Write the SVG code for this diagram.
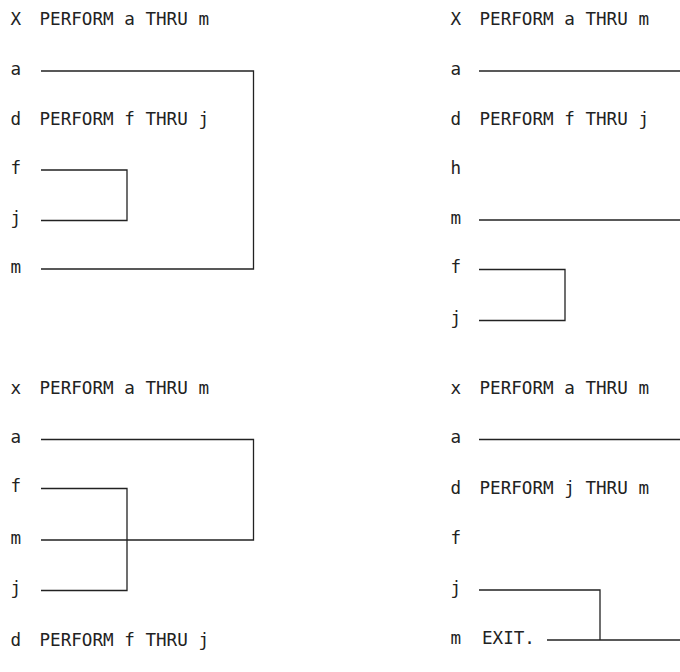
<svg xmlns="http://www.w3.org/2000/svg" width="680" height="672" viewBox="0 0 680 672">
<style>
text{font-family:"DejaVu Sans Mono","Liberation Mono",monospace;font-size:17.6px;fill:#222;white-space:pre}
.c{fill:none;stroke:#222;stroke-width:1.3}
</style>
<rect width="680" height="672" fill="#fff"/>
<g id="p1">
<g id="p1-x"><text x="10.5" y="25">X</text><text x="39.5" y="25">PERFORM a THRU m</text></g>
<g id="p1-a"><text x="10.5" y="75">a</text></g>
<g id="p1-d"><text x="10.5" y="125">d</text><text x="39.5" y="125">PERFORM f THRU j</text></g>
<g id="p1-f"><text x="10.5" y="174">f</text></g>
<g id="p1-j"><text x="10.5" y="224">j</text></g>
<g id="p1-m"><text x="10.5" y="273">m</text></g>
</g>
<g id="p2">
<g id="p2-x"><text x="450.5" y="25">X</text><text x="479.5" y="25">PERFORM a THRU m</text></g>
<g id="p2-a"><text x="450.5" y="75">a</text></g>
<g id="p2-d"><text x="450.5" y="125">d</text><text x="479.5" y="125">PERFORM f THRU j</text></g>
<g id="p2-h"><text x="450.5" y="174">h</text></g>
<g id="p2-m"><text x="450.5" y="224">m</text></g>
<g id="p2-f"><text x="450.5" y="273">f</text></g>
<g id="p2-j"><text x="450.5" y="324">j</text></g>
</g>
<g id="p3">
<g id="p3-x"><text x="10.5" y="394">x</text><text x="39.5" y="394">PERFORM a THRU m</text></g>
<g id="p3-a"><text x="10.5" y="443">a</text></g>
<g id="p3-f"><text x="10.5" y="492">f</text></g>
<g id="p3-m"><text x="10.5" y="544">m</text></g>
<g id="p3-j"><text x="10.5" y="594">j</text></g>
<g id="p3-d"><text x="10.5" y="646">d</text><text x="39.5" y="646">PERFORM f THRU j</text></g>
</g>
<g id="p4">
<g id="p4-x"><text x="450.5" y="394">x</text><text x="479.5" y="394">PERFORM a THRU m</text></g>
<g id="p4-a"><text x="450.5" y="443">a</text></g>
<g id="p4-d"><text x="450.5" y="494">d</text><text x="479.5" y="494">PERFORM j THRU m</text></g>
<g id="p4-f"><text x="450.5" y="544">f</text></g>
<g id="p4-j"><text x="450.5" y="594">j</text></g>
<g id="p4-m"><text x="450.5" y="644">m</text><text x="482" y="644">EXIT.</text></g>
</g>
<g id="connectors">
<path class="c" d="M41 71H253.5V269H41"/>
<path class="c" d="M41 170H127V220.5H41"/>
<path class="c" d="M479 71H680"/>
<path class="c" d="M479 220H680"/>
<path class="c" d="M479 269.5H565V320.5H479"/>
<path class="c" d="M41 439.5H253.5V540H41"/>
<path class="c" d="M41 488.5H127V590.5H41"/>
<path class="c" d="M479 439.5H680"/>
<path class="c" d="M479 590H600V640"/>
<path class="c" d="M547 640H680"/>
</g>
</svg>
